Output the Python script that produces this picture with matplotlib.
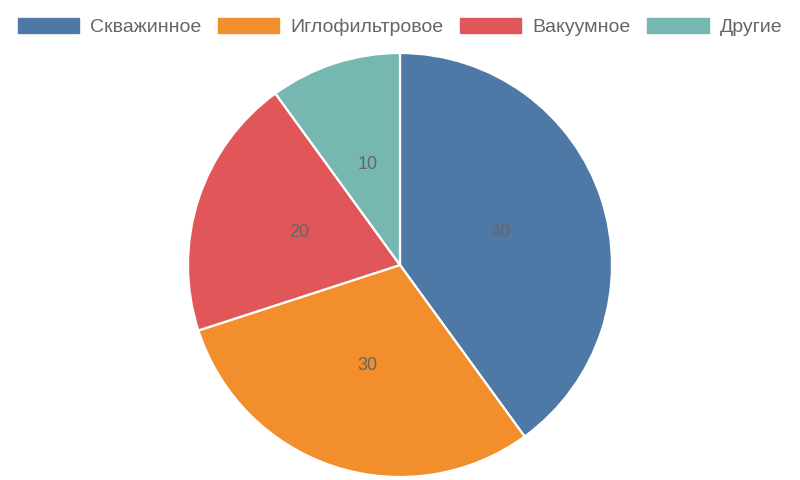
import numpy as np
import matplotlib.pyplot as plt
from matplotlib.patches import Patch

labels = ["Скважинное", "Иглофильтровое", "Вакуумное", "Другие"]
values = [40, 30, 20, 10]
colors = ["#4e79a7", "#f28e2b", "#e15759", "#76b7b2"]


def main():
    plt.rcParams["font.family"] = ["Liberation Sans", "DejaVu Sans"]

    fig = plt.figure(figsize=(8, 4.8), dpi=100)
    ax = fig.add_axes([188 / 800, 3 / 480, 424 / 800, 424 / 480])

    wedges, texts = ax.pie(
        values,
        colors=colors,
        startangle=90,
        counterclock=False,
        radius=1,
        wedgeprops=dict(edgecolor="white", linewidth=1.6),
    )
    for w, v in zip(wedges, values):
        ang = np.deg2rad((w.theta1 + w.theta2) / 2)
        ax.text(0.5 * np.cos(ang), 0.5 * np.sin(ang), str(v),
                ha="center", va="center", fontsize=13, color="#666666")

    ax.set_xlim(-1, 1)
    ax.set_ylim(-1, 1)
    ax.set_aspect("equal")
    ax.axis("off")

    handles = [Patch(facecolor=c, edgecolor=c) for c in colors]
    fig.legend(
        handles, labels,
        loc="center", bbox_to_anchor=(0.5, 1 - 27 / 480),
        ncol=4, frameon=False, fontsize=14,
        handlelength=3.15, handleheight=0.85,
        handletextpad=0.57, columnspacing=0.86,
        labelcolor="#666666",
    )

    fig.savefig("out.png", dpi=100)
    plt.close(fig)


if __name__ == "__main__":
    main()
